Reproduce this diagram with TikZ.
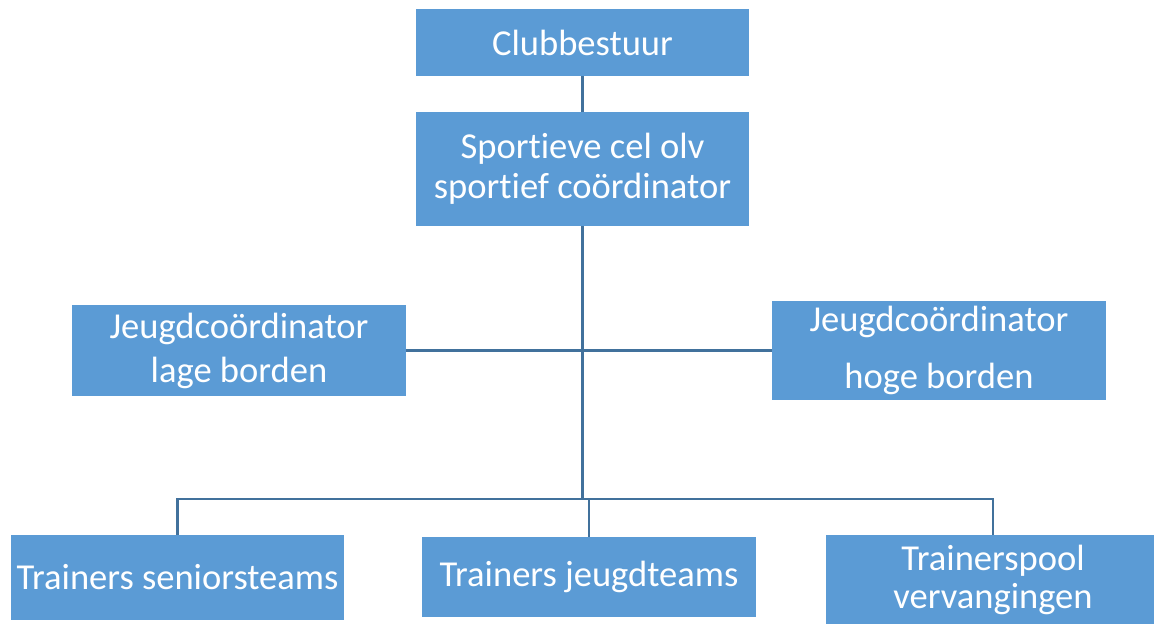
\documentclass[tikz,border=0pt]{standalone}
\usepackage{fontspec}
\setmainfont{Carlito}[Ligatures=NoCommon]
\usetikzlibrary{positioning,calc}
\definecolor{boxblue}{RGB}{91,155,213}
\definecolor{lineblue}{RGB}{65,113,156}

\begin{document}
\begin{tikzpicture}[x=0.02cm,y=-0.02cm,
  orgbox/.style={fill=boxblue,text=white,align=center,inner sep=0pt,
    font=\fontsize{20.8}{24}\selectfont},
  link/.style={draw=lineblue,line width=1.4pt}]
\useasboundingbox (0,0) rectangle (1154,623);

% top
\node[orgbox,minimum width=6.66cm,minimum height=1.34cm] (club) at (582.5,42.5) {Clubbestuur};
\node[orgbox,minimum width=6.66cm,minimum height=2.28cm,
  font=\fontsize{20.8}{22.7}\selectfont] (cel) at (582.5,169) {Sportieve cel olv\\sportief coördinator};

% coordinators
\node[orgbox,minimum width=6.68cm,minimum height=1.82cm,
  font=\fontsize{20.8}{25}\selectfont] (lage) at (239,350.5) {Jeugdcoördinator\\lage borden};
\node[orgbox,minimum width=6.68cm,minimum height=1.98cm,
  font=\fontsize{20.8}{32.3}\selectfont] (hoge) at (939,350.5) {Jeugdcoördinator\\hoge borden};

% trainers
\node[orgbox,minimum width=6.66cm,minimum height=1.70cm] (senior) at (177.5,577.5) {Trainers seniorsteams};
\node[orgbox,minimum width=6.68cm,minimum height=1.60cm] (jeugd) at (589,577) {Trainers jeugdteams};
\node[orgbox,minimum width=6.68cm,minimum height=1.80cm,
  font=\fontsize{20.8}{21.5}\selectfont] (pool) at (993,580) {Trainerspool\\vervangingen};

\coordinate (bus) at (582.5,499);

\draw[link] (club) -- (cel);
\draw[link] (cel) -- (bus);
\draw[link] (lage.east) -- (hoge.west);
\draw[link] (senior.north) |- (bus) -| (pool.north);
\draw[link] (jeugd.north) -- (jeugd.north |- bus);
\end{tikzpicture}
\end{document}
